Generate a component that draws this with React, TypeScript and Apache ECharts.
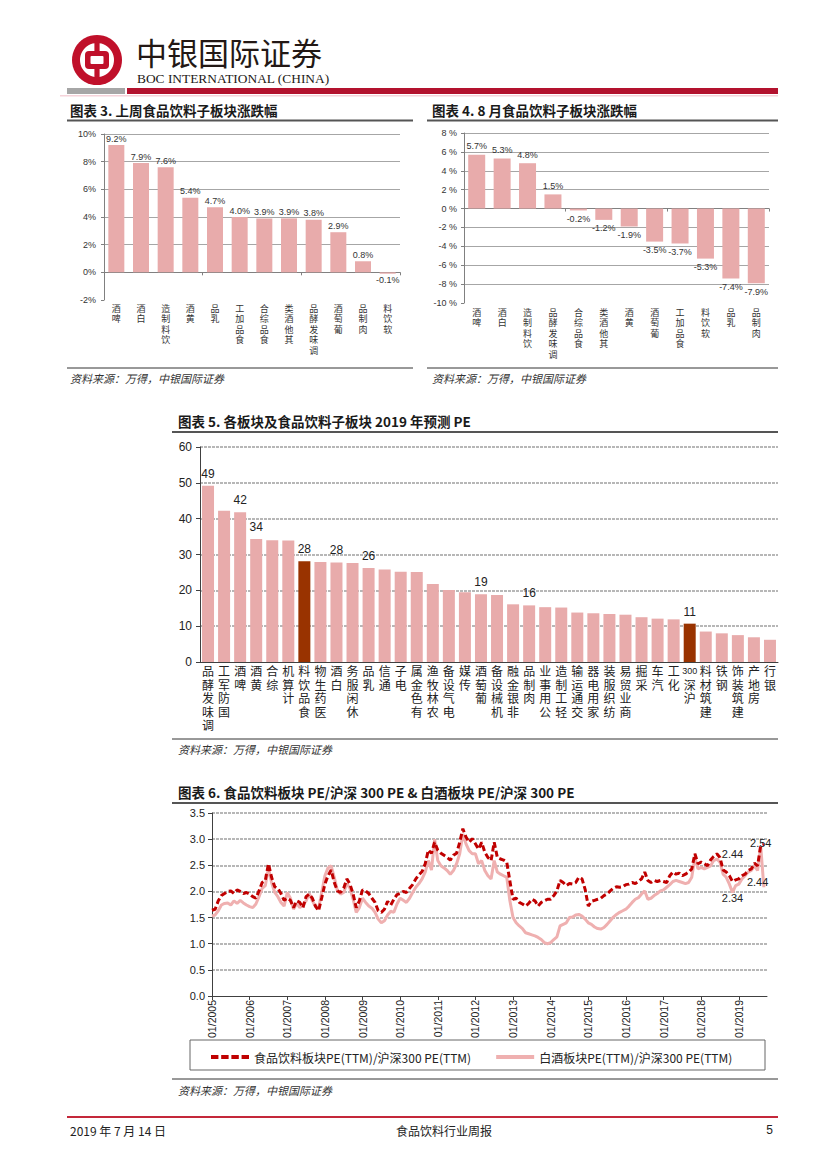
import React, { useEffect, useRef } from 'react';
import * as echarts from 'echarts';

const SANS = "'Liberation Sans', 'Noto Sans CJK SC', sans-serif";
const NARROW = "'Liberation Sans Narrow', 'Liberation Sans', 'Noto Sans CJK SC', sans-serif";
const CJK = "'Noto Sans CJK SC', 'Liberation Sans', sans-serif";

// Chart 3: last week's sub-sector change (%)
const weekCats = ['啤酒', '白酒', '饮料制造', '黄酒', '乳品', '食品加工', '食品综合', '其他酒类', '调味发酵品', '葡萄酒', '肉制品', '软饮料'];
const weekVals = [9.2, 7.9, 7.6, 5.4, 4.7, 4.0, 3.9, 3.9, 3.8, 2.9, 0.8, -0.1];

// Chart 4: August sub-sector change (%)
const augCats = ['啤酒', '白酒', '饮料制造', '调味发酵品', '食品综合', '其他酒类', '黄酒', '葡萄酒', '食品加工', '软饮料', '乳品', '肉制品'];
const augVals = [5.7, 5.3, 4.8, 1.5, -0.2, -1.2, -1.9, -3.5, -3.7, -5.3, -7.4, -7.9];

// Chart 5: 2019E PE by sector
const peCats = ['调味发酵品', '国防军工', '啤酒', '黄酒', '综合', '计算机', '食品饮料', '医药生物', '白酒', '休闲服务', '乳品', '通信', '电子', '有色金属', '农林牧渔', '电气设备', '传媒', '葡萄酒', '机械设备', '非银金融', '肉制品', '公用事业', '轻工制造', '交通运输', '家用电器', '纺织服装', '商业贸易', '采掘', '汽车', '化工', '沪深300', '建筑材料', '钢铁', '建筑装饰', '房地产', '银行'];
const peVals = [49.2, 42.2, 41.8, 34.3, 34.0, 33.9, 28.1, 27.9, 27.8, 27.6, 26.2, 25.8, 25.2, 25.1, 21.8, 20.1, 19.5, 18.9, 18.7, 16.1, 15.8, 15.3, 15.2, 13.8, 13.6, 13.4, 13.2, 12.5, 12.1, 11.9, 10.7, 8.5, 8.0, 7.5, 6.9, 6.2];
const peLabelled = ['调味发酵品', '啤酒', '黄酒', '食品饮料', '白酒', '乳品', '葡萄酒', '肉制品', '沪深300'];
const peHighlight = ['食品饮料', '沪深300'];

// Chart 6: relative PE, monthly from 01/2005
const firstYear = 2005;
const lastYear = 2019;
const lastMonthOfAxis = 10;
const foodRatio = [
  1.64, 1.66, 1.82, 1.92, 1.96, 2.00, 2.01, 1.96, 2.03, 2.00, 1.96, 1.98,
  1.95, 1.90, 1.87, 2.01, 2.17, 2.21, 2.53, 2.27, 2.09, 2.06, 1.96, 1.83,
  1.87, 1.83, 1.69, 1.82, 1.79, 1.69, 1.90, 1.95, 1.87, 1.72, 1.63, 1.88,
  2.14, 2.30, 2.41, 2.17, 2.01, 1.98, 2.06, 2.24, 2.14, 1.95, 1.69, 1.82,
  2.03, 2.01, 1.96, 1.87, 1.79, 1.63, 1.60, 1.66, 1.81, 1.74, 1.85, 1.94,
  1.96, 2.00, 1.98, 2.06, 2.13, 2.24, 2.32, 2.38, 2.53, 2.79, 2.73, 2.94,
  2.79, 2.73, 2.69, 2.65, 2.60, 2.69, 2.73, 2.94, 3.20, 3.04, 2.94, 3.01,
  2.91, 2.81, 2.94, 2.75, 2.65, 2.59, 2.94, 2.65, 2.62, 2.60, 2.56, 2.20,
  1.85, 1.87, 1.79, 1.76, 1.72, 1.77, 1.85, 1.82, 1.72, 1.79, 1.82, 1.85,
  1.85, 1.92, 2.01, 2.21, 2.17, 2.11, 2.15, 2.14, 2.17, 2.27, 2.24, 2.04,
  1.72, 1.81, 1.83, 1.85, 1.87, 1.92, 1.95, 2.01, 2.06, 2.09, 2.08, 2.09,
  2.13, 2.14, 2.17, 2.15, 2.19, 2.24, 2.37, 2.21, 2.17, 2.21, 2.19, 2.21,
  2.19, 2.17, 2.30, 2.37, 2.33, 2.35, 2.30, 2.33, 2.37, 2.43, 2.72, 2.53,
  2.56, 2.53, 2.49, 2.60, 2.67, 2.72, 2.65, 2.41, 2.37, 2.30, 2.19, 2.22,
  2.24, 2.30, 2.33, 2.40, 2.43, 2.54, 2.49, 2.88, 2.90
];
const baijiuRatio = [
  1.53, 1.55, 1.63, 1.74, 1.77, 1.78, 1.74, 1.82, 1.77, 1.83, 1.78, 1.74,
  1.71, 1.69, 1.76, 1.90, 2.06, 2.11, 2.45, 2.17, 1.98, 1.90, 1.79, 1.72,
  1.98, 1.87, 1.66, 1.77, 1.69, 1.74, 1.82, 1.96, 1.82, 1.71, 1.68, 1.98,
  2.30, 2.45, 2.49, 2.27, 2.01, 1.95, 1.98, 2.15, 2.06, 1.85, 1.60, 1.69,
  1.87, 1.79, 1.72, 1.68, 1.60, 1.47, 1.40, 1.44, 1.55, 1.62, 1.60, 1.76,
  1.87, 1.83, 1.79, 1.87, 1.98, 2.08, 2.15, 2.24, 2.37, 2.59, 2.41, 3.00,
  2.59, 2.49, 2.45, 2.40, 2.33, 2.40, 2.53, 2.72, 3.10, 2.91, 2.78, 2.72,
  2.72, 2.53, 2.59, 2.40, 2.30, 2.24, 2.59, 2.37, 2.33, 2.30, 2.27, 1.82,
  1.50, 1.40, 1.34, 1.29, 1.21, 1.19, 1.17, 1.15, 1.12, 1.08, 1.02, 1.00,
  1.02, 1.08, 1.13, 1.34, 1.37, 1.40, 1.50, 1.51, 1.55, 1.56, 1.53, 1.47,
  1.40, 1.37, 1.32, 1.29, 1.28, 1.31, 1.37, 1.44, 1.51, 1.56, 1.60, 1.63,
  1.66, 1.72, 1.79, 1.85, 1.88, 1.95, 2.01, 1.85, 1.87, 1.92, 1.96, 2.01,
  2.03, 2.08, 2.13, 2.19, 2.21, 2.19, 2.17, 2.15, 2.17, 2.27, 2.65, 2.43,
  2.46, 2.43, 2.46, 2.49, 2.59, 2.62, 2.56, 2.33, 2.27, 2.14, 1.98, 2.11,
  2.14, 2.24, 2.30, 2.37, 2.40, 2.49, 2.40, 2.86, 2.08
];
const ratioNotes = [
  { idx: 175, v: 2.93, text: '2.54' },
  { idx: 166, v: 2.72, text: '2.44' },
  { idx: 174, v: 2.18, text: '2.44' },
  { idx: 166, v: 1.87, text: '2.34' },
];
const foodName = '食品饮料板块PE(TTM)/沪深300 PE(TTM)';
const baijiuName = '白酒板块PE(TTM)/沪深300 PE(TTM)';

const monthLabels: string[] = [];
for (let y = firstYear; y <= lastYear; y++) {
  for (let m = 1; m <= 12; m++) {
    if (y === lastYear && m > lastMonthOfAxis) break;
    monthLabels.push((m < 10 ? '0' + m : '' + m) + '/' + y);
  }
}

const sourceText = '资料来源：万得，中银国际证券';

const PINK = '#E8ABAB';
const DARK = '#993300';

// Excel-style vertical text: reads bottom-to-top with upright glyphs
const stack = (s: string) =>
  (s.match(/\d+|./g) || []).reverse().map((t) => (/\d/.test(t) ? '{n|' + t + '}' : t)).join('\n');

function pctBars(vals: number[], dist: number) {
  return vals.map((v) => ({
    value: v,
    label: { position: v < 0 ? 'bottom' : 'top', distance: dist },
  }));
}

export default function App() {
  const ref = useRef<HTMLDivElement>(null);
  useEffect(() => {
    if (!ref.current) return;
    const chart = echarts.init(ref.current, undefined, { renderer: 'svg' });

    const titleStyle = { font: `bold 13.5px ${CJK}`, fill: '#1a1a1a' };
    const srcStyle = { text: sourceText, font: `italic 11px ${CJK}`, fill: '#333' };

    const graphic: any[] = [
      // logo
      {
        type: 'group', x: 97, y: 60, children: [
          { type: 'circle', shape: { cx: 0, cy: 0, r: 25 }, style: { fill: '#C0102A' } },
          { type: 'circle', shape: { cx: 0, cy: 0, r: 17 }, style: { fill: '#fff' } },
          { type: 'rect', shape: { x: -12, y: -9, width: 24, height: 18, r: 4 }, style: { fill: '#C0102A' } },
          { type: 'rect', shape: { x: -6.5, y: -4, width: 13, height: 8, r: 1 }, style: { fill: '#fff' } },
          { type: 'rect', shape: { x: -2.6, y: -24, width: 5.2, height: 16 }, style: { fill: '#C0102A' } },
          { type: 'rect', shape: { x: -2.6, y: 8, width: 5.2, height: 16 }, style: { fill: '#C0102A' } },
        ],
      },
      { type: 'text', x: 136, y: 51, style: { text: '中银国际证券', font: `31px ${CJK}`, lineHeight: 31, fill: '#231815', verticalAlign: 'middle' } },
      { type: 'text', x: 137, y: 78.5, style: { text: 'BOC INTERNATIONAL (CHINA)', font: "13.4px 'Liberation Serif', serif", lineHeight: 13, fill: '#231815', verticalAlign: 'middle' } },
      { type: 'rect', shape: { x: 67, y: 88, width: 58, height: 6 }, style: { fill: '#A6A6A6' } },
      { type: 'rect', shape: { x: 127, y: 88, width: 651, height: 6 }, style: { fill: '#B3122E' } },
      { type: 'rect', shape: { x: 60, y: 95, width: 718, height: 1.5 }, style: { fill: '#F6D3DA' } },

      // chart 3 frame
      { type: 'text', x: 70, y: 110, style: { ...titleStyle, text: '图表 3. 上周食品饮料子板块涨跌幅', verticalAlign: 'middle' } },
      { type: 'rect', shape: { x: 67, y: 119.5, width: 346, height: 2 }, style: { fill: '#555' } },
      { type: 'line', shape: { x1: 67, y1: 368, x2: 413, y2: 368 }, style: { stroke: '#333', lineWidth: 1 } },
      { type: 'text', x: 70, y: 378, style: { ...srcStyle, verticalAlign: 'middle' } },

      // chart 4 frame
      { type: 'text', x: 432, y: 110, style: { ...titleStyle, text: '图表 4. 8 月食品饮料子板块涨跌幅', verticalAlign: 'middle' } },
      { type: 'rect', shape: { x: 427, y: 119.5, width: 351, height: 2 }, style: { fill: '#555' } },
      { type: 'line', shape: { x1: 427, y1: 368, x2: 778, y2: 368 }, style: { stroke: '#333', lineWidth: 1 } },
      { type: 'text', x: 432, y: 378, style: { ...srcStyle, verticalAlign: 'middle' } },

      // chart 5 frame
      { type: 'text', x: 178, y: 421, style: { ...titleStyle, text: '图表 5. 各板块及食品饮料子板块 2019 年预测 PE', verticalAlign: 'middle' } },
      { type: 'rect', shape: { x: 172, y: 431, width: 606, height: 2 }, style: { fill: '#555' } },
      { type: 'line', shape: { x1: 172, y1: 739, x2: 778, y2: 739 }, style: { stroke: '#333', lineWidth: 1 } },
      { type: 'text', x: 178, y: 749, style: { ...srcStyle, verticalAlign: 'middle' } },

      // chart 6 frame
      { type: 'text', x: 178, y: 792, style: { ...titleStyle, text: '图表 6. 食品饮料板块 PE/沪深 300 PE & 白酒板块 PE/沪深 300 PE', verticalAlign: 'middle' } },
      { type: 'rect', shape: { x: 172, y: 802, width: 606, height: 2 }, style: { fill: '#555' } },
      { type: 'rect', shape: { x: 190, y: 1040, width: 575, height: 30 }, style: { fill: 'none', stroke: '#666', lineWidth: 1 } },
      { type: 'line', shape: { x1: 172, y1: 1079, x2: 778, y2: 1079 }, style: { stroke: '#333', lineWidth: 1 } },
      { type: 'text', x: 178, y: 1090, style: { ...srcStyle, verticalAlign: 'middle' } },

      // footer
      { type: 'rect', shape: { x: 67, y: 1116, width: 711, height: 2 }, style: { fill: '#C4283A' } },
      { type: 'text', x: 70, y: 1130, style: { text: '2019 年 7 月 14 日', font: `12px ${CJK}`, fill: '#222', verticalAlign: 'middle' } },
      { type: 'text', x: 444, y: 1130, style: { text: '食品饮料行业周报', font: `12px ${CJK}`, fill: '#222', align: 'center', verticalAlign: 'middle' } },
      { type: 'text', x: 773, y: 1130, style: { text: '5', font: `12px ${SANS}`, fill: '#222', align: 'right', verticalAlign: 'middle' } },
    ];

    const smallCat = (data: string[], grid: number, margin: number) => [
      {
        gridIndex: grid, type: 'category', data,
        axisLine: { onZero: true, lineStyle: { color: '#808080' } },
        axisTick: { show: true, length: 3, lineStyle: { color: '#808080' } },
        axisLabel: { show: false },
      },
      {
        gridIndex: grid, type: 'category', data, position: 'bottom',
        axisLine: { show: false, onZero: false },
        axisTick: { show: false },
        axisLabel: {
          interval: 0, formatter: stack, fontSize: 9, lineHeight: 10.5, fontFamily: CJK, color: '#333', margin,
          rich: { n: { fontSize: 7, lineHeight: 10.5, fontFamily: NARROW } },
        },
      },
    ];

    const option: any = {
      animation: false,
      textStyle: { fontFamily: SANS },
      graphic,
      grid: [
        { left: 104, top: 134, width: 296, height: 166 },
        { left: 464, top: 133, width: 305, height: 170 },
        { left: 200, top: 447, width: 578, height: 215 },
        { left: 212, top: 813, width: 555, height: 183 },
      ],
      xAxis: [
        ...smallCat(weekCats, 0, 3),
        ...smallCat(augCats, 1, 4),
        {
          gridIndex: 2, type: 'category', data: peCats,
          axisLine: { lineStyle: { color: '#404040' } },
          axisTick: { length: 4, lineStyle: { color: '#404040' } },
          axisLabel: {
            interval: 0, formatter: stack, fontSize: 12, lineHeight: 13.5, fontFamily: CJK, color: '#222', margin: 2,
            rich: { n: { fontSize: 9, lineHeight: 13.5, fontFamily: NARROW, color: '#222' } },
          },
        },
        {
          gridIndex: 3, type: 'category', data: monthLabels, boundaryGap: false,
          axisLine: { lineStyle: { color: '#404040' } },
          axisTick: { length: 4, interval: (i: number) => i % 12 === 0, lineStyle: { color: '#404040' } },
          axisLabel: { interval: (i: number) => i % 12 === 0, rotate: 90, fontSize: 10.5, fontFamily: NARROW, color: '#222', margin: 4 },
        },
      ],
      yAxis: [
        {
          gridIndex: 0, type: 'value', min: -2, max: 10, interval: 2,
          axisLine: { show: true, lineStyle: { color: '#808080' } },
          axisTick: { show: true, length: 3, lineStyle: { color: '#808080' } },
          splitLine: { showMinLine: false, lineStyle: { color: '#A6A6A6' } },
          axisLabel: { formatter: '{value}%', fontSize: 9, fontFamily: NARROW, color: '#333', margin: 8 },
        },
        {
          gridIndex: 1, type: 'value', min: -10, max: 8, interval: 2,
          axisLine: { show: true, lineStyle: { color: '#808080' } },
          axisTick: { show: true, length: 3, lineStyle: { color: '#808080' } },
          splitLine: { showMinLine: false, lineStyle: { color: '#A6A6A6' } },
          axisLabel: { formatter: '{value} %', fontSize: 9, fontFamily: NARROW, color: '#333', margin: 7 },
        },
        {
          gridIndex: 2, type: 'value', min: 0, max: 60, interval: 10,
          axisLine: { show: true, lineStyle: { color: '#404040' } },
          axisTick: { show: true, length: 4, lineStyle: { color: '#404040' } },
          splitLine: { showMinLine: false, lineStyle: { color: '#A0A0A0', width: 1.5, type: [3, 1] } },
          axisLabel: { fontSize: 12, fontFamily: NARROW, color: '#222', margin: 8 },
        },
        {
          gridIndex: 3, type: 'value', min: 0, max: 3.5, interval: 0.5,
          axisLine: { show: true, lineStyle: { color: '#404040' } },
          axisTick: { show: true, length: 4, lineStyle: { color: '#404040' } },
          splitLine: { showMinLine: false, lineStyle: { color: '#A0A0A0', width: 1.5, type: [3, 1] } },
          axisLabel: { formatter: (v: number) => v.toFixed(1), fontSize: 11, fontFamily: SANS, color: '#222', margin: 7 },
        },
      ],
      legend: {
        left: 206, top: 1046, itemGap: 25, itemWidth: 38, itemHeight: 4, symbolKeepAspect: false,
        textStyle: { fontSize: 12, fontFamily: CJK, color: '#222' },
        data: [
          { name: foodName, icon: 'path://M0,0H8V3H0Z M11,0H19V3H11Z M22,0H30V3H22Z M33,0H41V3H33Z' },
          { name: baijiuName, icon: 'rect' },
        ],
      },
      series: [
        {
          type: 'bar', xAxisIndex: 0, yAxisIndex: 0, barWidth: 16,
          data: pctBars(weekVals, 2),
          itemStyle: { color: PINK },
          label: { show: true, formatter: (p: any) => p.value.toFixed(1) + '%', fontSize: 9, fontFamily: NARROW, color: '#333' },
        },
        {
          type: 'bar', xAxisIndex: 2, yAxisIndex: 1, barWidth: 17,
          data: pctBars(augVals, 4),
          itemStyle: { color: PINK },
          label: { show: true, formatter: (p: any) => p.value.toFixed(1) + '%', fontSize: 9, fontFamily: NARROW, color: '#333' },
        },
        {
          type: 'bar', xAxisIndex: 4, yAxisIndex: 2, barWidth: 12,
          data: peVals.map((v, i) => ({
            value: v,
            itemStyle: { color: peHighlight.includes(peCats[i]) ? DARK : PINK },
            label: { show: peLabelled.includes(peCats[i]) },
          })),
          label: { position: 'top', distance: 6, formatter: (p: any) => String(Math.round(p.value)), fontSize: 12, fontFamily: NARROW, color: '#222' },
        },
        {
          name: baijiuName, type: 'line', xAxisIndex: 5, yAxisIndex: 3, data: baijiuRatio,
          symbol: 'none', z: 2,
          lineStyle: { color: '#EFB0B0', width: 3 }, itemStyle: { color: '#EFB0B0' },
        },
        {
          name: foodName, type: 'line', xAxisIndex: 5, yAxisIndex: 3, data: foodRatio,
          symbol: 'none', z: 3,
          lineStyle: { color: '#C00000', width: 3, type: [6, 3] }, itemStyle: { color: '#C00000' },
          markPoint: {
            symbol: 'circle', symbolSize: 1, itemStyle: { color: 'rgba(0,0,0,0)' },
            label: { show: true, position: 'inside', formatter: '{c}', fontSize: 11, fontFamily: SANS, color: '#222' },
            data: ratioNotes.map((n) => ({ coord: [n.idx, n.v], value: n.text })),
          },
        },
      ],
    };
    chart.setOption(option);
    return () => chart.dispose();
  }, []);
  return <div ref={ref} style={{ position: 'absolute', left: 0, top: 0, width: 827, height: 1169 }} />;
}
